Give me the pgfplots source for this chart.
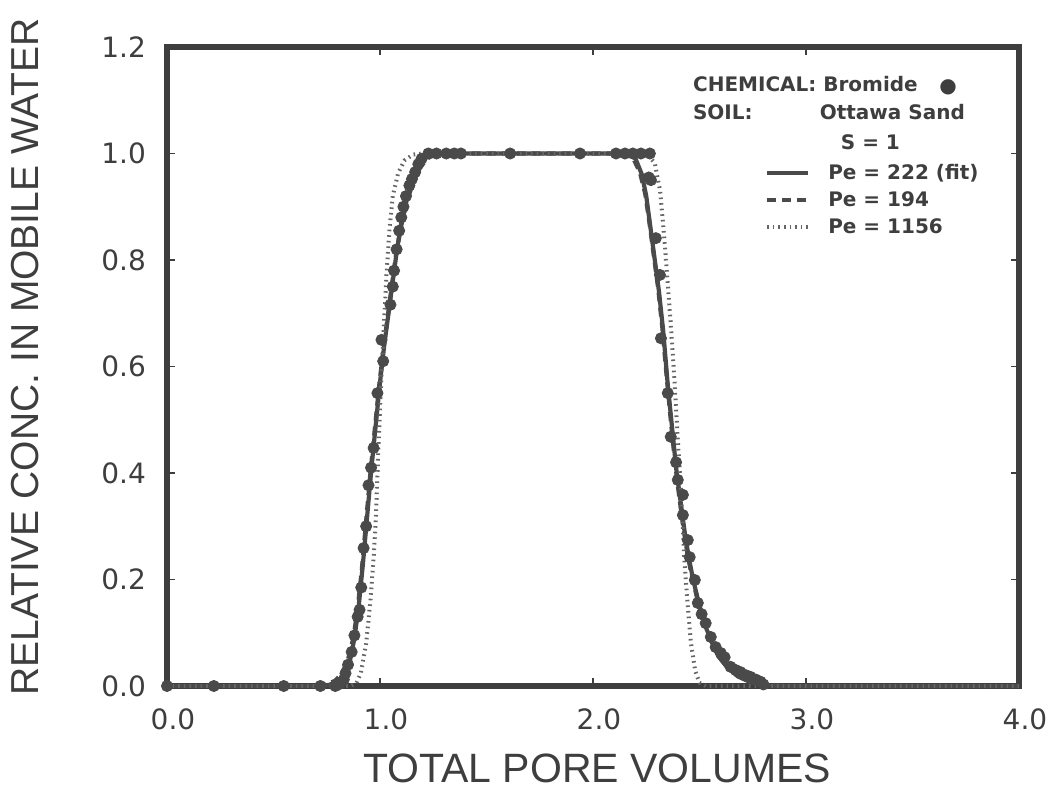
\documentclass[border=0pt]{standalone}
\usepackage{pgfplots}
\pgfplotsset{compat=1.18}
\usepackage{fontspec}
\setmainfont{Liberation Sans}
\newfontfamily\dejavu{DejaVu Sans}
\definecolor{ink}{HTML}{3E3E3E}
\definecolor{crv}{HTML}{4A4A4A}
\begin{document}
\begin{tikzpicture}
\useasboundingbox (-83.5pt,-51pt) rectangle (442.5pt,343pt);
\begin{axis}[
  at={(0,0)}, anchor=south west,
  scale only axis, width=426pt, height=319.5pt,
  xmin=0, xmax=4, ymin=0, ymax=1.2,
  clip=false,
  axis line style={line width=2.6pt, color=ink},
  xtick={0,1,2,3,4},
  ytick={0,0.2,0.4,0.6,0.8,1.0,1.2},
  tick align=inside,
  major tick length=4pt,
  tick style={line width=0.6pt, color=ink},
  /pgf/number format/assume math mode=true,
  /pgf/number format/fixed,
  /pgf/number format/fixed zerofill,
  /pgf/number format/precision=1,
  tick label style={font=\dejavu\fontsize{14}{16}\selectfont, text=ink},
  xticklabel style={yshift=-8pt, xshift=3pt},
  yticklabel style={xshift=-7pt},
  legend style={draw=none, fill=none, at={(axis cs:2.806,0.985)}, anchor=north west,
    font=\dejavu\bfseries\fontsize{10}{12}\selectfont, text=ink,
    row sep=2.6pt, column sep=8pt, inner sep=0pt, nodes={inner sep=1pt}},
  legend cell align=left,
  legend image code/.code={\draw[#1] (0pt,0pt) -- (20.5pt,0pt);},
]
% Pe = 222 (fit)
\addplot[crv, line width=2.1pt, line join=round] coordinates {
(0,0) (0.70,0) (0.76,0.002) (0.80,0.008) (0.83,0.02) (0.86,0.05) (0.88,0.09)
(0.90,0.15) (0.92,0.23) (0.94,0.32) (0.96,0.41) (0.98,0.49) (1.00,0.57)
(1.02,0.64) (1.04,0.70) (1.06,0.76) (1.08,0.82) (1.10,0.87) (1.13,0.92)
(1.16,0.955) (1.19,0.98) (1.22,0.995) (1.26,1.0) (2.17,1.0) (2.20,0.99)
(2.23,0.96) (2.25,0.92) (2.27,0.86) (2.29,0.80) (2.31,0.74) (2.33,0.665)
(2.35,0.57) (2.37,0.49) (2.39,0.41) (2.41,0.35) (2.43,0.29) (2.45,0.24)
(2.47,0.20) (2.50,0.15) (2.53,0.11) (2.56,0.08) (2.59,0.055) (2.63,0.035)
(2.68,0.018) (2.74,0.007) (2.80,0.002) (2.86,0) (4,0)
};
\addlegendentry{Pe = 222 (fit)}
% Pe = 194
\addplot[crv, line width=2.1pt, dash pattern=on 4.5pt off 3pt] coordinates {
(0,0) (0.68,0) (0.75,0.003) (0.79,0.01) (0.82,0.022) (0.85,0.05) (0.875,0.09)
(0.895,0.145) (0.915,0.22) (0.935,0.31) (0.955,0.40) (0.975,0.48) (0.995,0.56)
(1.015,0.63) (1.035,0.69) (1.055,0.75) (1.075,0.81) (1.10,0.865) (1.13,0.915)
(1.16,0.95) (1.19,0.975) (1.23,0.993) (1.28,1.0) (2.15,1.0) (2.19,0.99)
(2.22,0.965) (2.245,0.925) (2.265,0.87) (2.285,0.81) (2.305,0.75) (2.325,0.675)
(2.345,0.585) (2.365,0.50) (2.385,0.42) (2.405,0.355) (2.425,0.295) (2.445,0.245)
(2.465,0.205) (2.495,0.155) (2.525,0.115) (2.555,0.083) (2.59,0.057) (2.63,0.037)
(2.69,0.018) (2.76,0.007) (2.83,0.002) (2.90,0) (4,0)
};
\addlegendentry{Pe = 194}
% Pe = 1156
\addplot[crv!85, line width=2pt, dash pattern=on 0.8pt off 2pt] coordinates {
(0,0) (0.86,0) (0.89,0.006) (0.91,0.024) (0.935,0.08) (0.955,0.16) (0.97,0.24)
(0.98,0.31) (0.99,0.42) (1.00,0.52) (1.01,0.61) (1.02,0.69) (1.03,0.77)
(1.045,0.86) (1.06,0.92) (1.085,0.963) (1.115,0.987) (1.155,0.998) (1.20,1.0)
(2.23,1.0) (2.26,0.996) (2.29,0.982) (2.315,0.93) (2.335,0.84) (2.35,0.76)
(2.365,0.68) (2.38,0.59) (2.39,0.52) (2.40,0.45) (2.41,0.39) (2.42,0.31)
(2.43,0.23) (2.445,0.15) (2.46,0.08) (2.48,0.028) (2.50,0.006) (2.53,0) (4,0)
};
\addlegendentry{Pe = 1156}
% Bromide data
\addplot[only marks, mark=*, mark size=2.8pt, color=crv, fill=crv, forget plot] coordinates {
(0.000,0.000) (0.220,0.000) (0.548,0.000) (0.720,0.000) (0.790,0.000)
(0.805,0.003) (0.815,0.006) (0.830,0.012) (0.838,0.024) (0.850,0.040)
(0.867,0.064) (0.880,0.095) (0.895,0.130) (0.904,0.143) (0.912,0.185)
(0.923,0.259) (0.935,0.300) (0.946,0.377) (0.958,0.410) (0.970,0.447)
(0.988,0.550) (1.007,0.650) (1.015,0.610) (1.049,0.716) (1.060,0.750)
(1.066,0.780) (1.078,0.820) (1.090,0.855) (1.100,0.880) (1.110,0.900)
(1.122,0.920) (1.138,0.940) (1.150,0.952) (1.165,0.965) (1.180,0.980)
(1.195,0.990) (1.227,1.000) (1.265,1.000) (1.311,1.000) (1.349,1.000)
(1.380,1.000) (1.611,1.000) (1.939,1.000) (2.108,1.000) (2.150,1.000)
(2.187,1.000) (2.225,1.000) (2.267,1.000) (2.262,0.955) (2.272,0.950)
(2.295,0.841) (2.314,0.772) (2.319,0.653) (2.351,0.550) (2.365,0.468)
(2.390,0.420) (2.398,0.387) (2.422,0.359) (2.422,0.321) (2.445,0.274)
(2.454,0.242) (2.478,0.199) (2.492,0.156) (2.510,0.135) (2.529,0.118)
(2.553,0.092) (2.576,0.073) (2.600,0.062) (2.618,0.054) (2.646,0.036)
(2.670,0.030) (2.693,0.026) (2.720,0.020) (2.740,0.017) (2.765,0.012)
(2.787,0.008) (2.800,0.003)
};
\node[anchor=base west, inner sep=0pt, text=ink, font=\dejavu\bfseries\fontsize{10}{12}\selectfont] at (axis cs:2.468,1.1155) {CHEMICAL: Bromide};
\node[anchor=center, inner sep=0pt, text=ink, font=\dejavu\fontsize{10}{12}\selectfont] at (axis cs:3.667,1.125) {●};
\node[anchor=base west, inner sep=0pt, text=ink, font=\dejavu\bfseries\fontsize{10}{12}\selectfont] at (axis cs:2.468,1.063) {SOIL:};
\node[anchor=base west, inner sep=0pt, text=ink, font=\dejavu\bfseries\fontsize{10}{12}\selectfont] at (axis cs:3.063,1.063) {Ottawa Sand};
\node[anchor=base west, inner sep=0pt, text=ink, font=\dejavu\bfseries\fontsize{10}{12}\selectfont] at (axis cs:3.162,1.008) {S = 1};
\end{axis}
\node[anchor=base, text=ink, font=\fontsize{20.5}{24}\selectfont] at (215pt,-48pt) {TOTAL PORE VOLUMES};
\node[rotate=90, anchor=base, text=ink, font=\fontsize{19.5}{24}\selectfont] at (-64.5pt,164.5pt) {RELATIVE CONC. IN MOBILE WATER};
\end{tikzpicture}
\end{document}
